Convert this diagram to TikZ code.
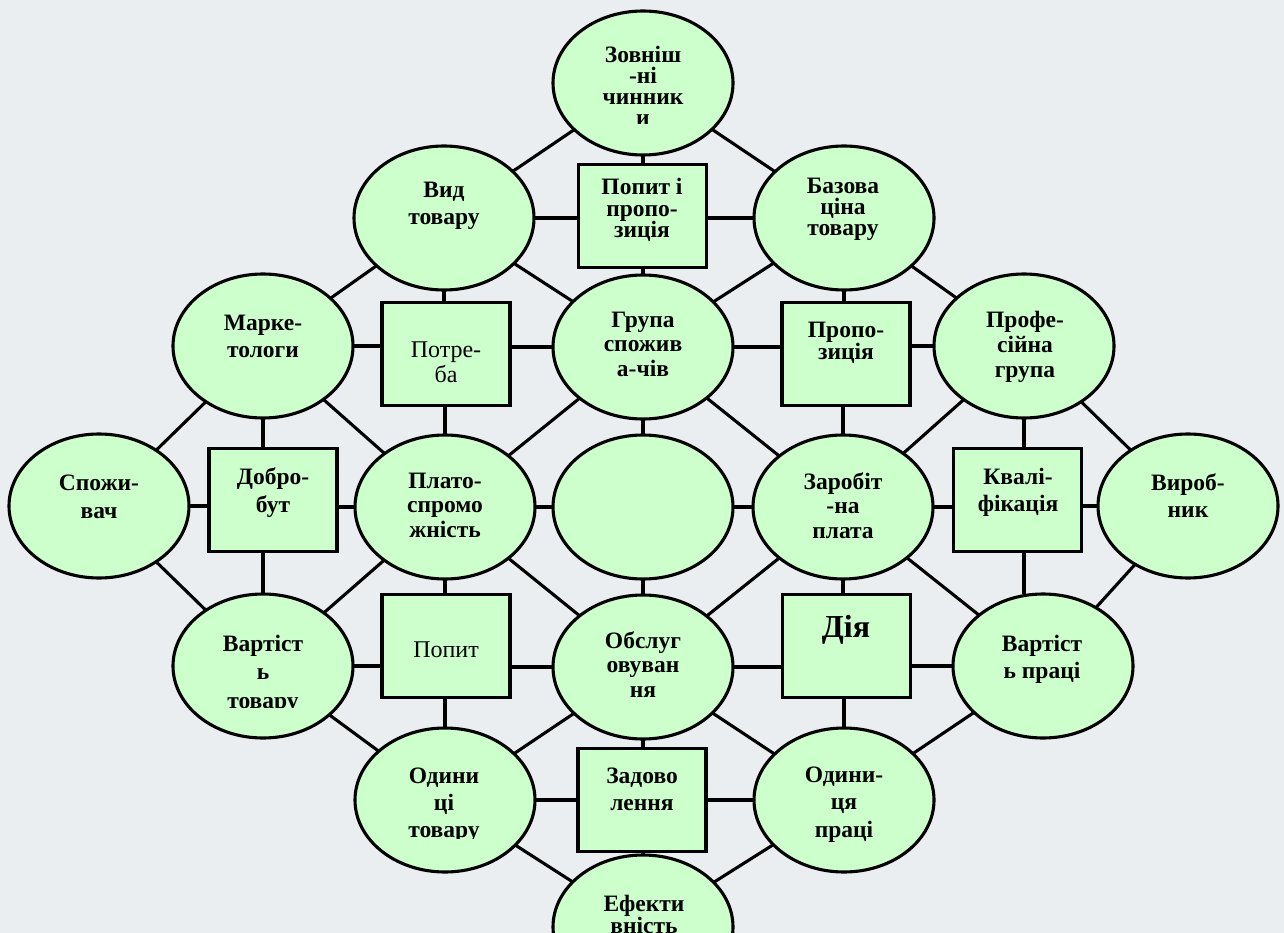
\documentclass[tikz,border=0pt]{standalone}
\usepackage{fontspec}
\setmainfont{Liberation Serif}
\usetikzlibrary{shapes.geometric}
\definecolor{shapefill}{RGB}{204,255,204}
\definecolor{bgcol}{RGB}{235,238,241}
\newcommand{\mylbl}[5]{\node[lbl] (#1) at (#2,#3) {\parbox[t]{170pt}{\centering\fontsize{23.5pt}{#4pt}\selectfont\bfseries #5}};}
\newcommand{\mylblr}[5]{\node[lbl] (#1) at (#2,#3) {\parbox[t]{170pt}{\centering\fontsize{24pt}{#4pt}\selectfont #5}};}
\begin{document}
\begin{tikzpicture}[x=1pt,y=-1pt,
  oval/.style={ellipse, draw=black, line width=3.1pt, fill=shapefill, minimum width=180pt, minimum height=144pt, inner sep=0pt, outer sep=0pt},
  sq/.style={rectangle, draw=black, line width=3.1pt, fill=shapefill, minimum width=128pt, minimum height=103pt, inner sep=0pt, outer sep=0pt},
  conn/.style={line width=3.1pt, draw=black},
  lbl/.style={anchor=base, inner sep=0pt, outer sep=0pt}
]
\useasboundingbox (0,0) rectangle (1284,933);
\clip (0,0) rectangle (1284,933);
\fill[bgcol] (0,0) rectangle (1284,933);

% ellipses
\node[oval] (zv)  at (643,83) {};
\node[oval] (vt)  at (444,218) {};
\node[oval] (bc)  at (844,218) {};
\node[oval] (mk)  at (263,346) {};
\node[oval] (gr)  at (643,347) {};
\node[oval] (pg)  at (1024,346) {};
\node[oval] (sp)  at (99,506) {};
\node[oval] (pl)  at (445,507) {};
\node[oval] (ce)  at (643,507) {};
\node[oval] (zp)  at (843,507) {};
\node[oval] (vb)  at (1188,506) {};
\node[oval] (vtv) at (263,666) {};
\node[oval] (ob)  at (643,667) {};
\node[oval] (vp)  at (1043,666) {};
\node[oval] (ot)  at (445,800) {};
\node[oval] (op)  at (844,800) {};
\node[oval] (ef)  at (643,927) {};

% boxes
\node[sq] (ppz) at (642.5,216) {};
\node[sq] (ptr) at (446,354) {};
\node[sq] (prp) at (846,354) {};
\node[sq] (dbt) at (273,500) {};
\node[sq] (kvl) at (1017.5,500) {};
\node[sq] (pop) at (446,646) {};
\node[sq] (dia) at (846.5,646) {};
\node[sq] (zad) at (642,800) {};

% vertical connectors
\draw[conn] (zv.south) -- (zv.south |- ppz.north);
\draw[conn] (gr.north) -- (gr.north |- ppz.south);
\draw[conn] (vt.south) -- (vt.south |- ptr.north);
\draw[conn] (bc.south) -- (bc.south |- prp.north);
\draw[conn] (pl.north) -- (pl.north |- ptr.south);
\draw[conn] (zp.north) -- (zp.north |- prp.south);
\draw[conn] (gr.south) -- (ce.north);
\draw[conn] (mk.south) -- (mk.south |- dbt.north);
\draw[conn] (vtv.north) -- (vtv.north |- dbt.south);
\draw[conn] (pg.south) -- (pg.south |- kvl.north);
\draw[conn] (kvl.south -| pg.south) -- (vp.north -| pg.south);
\draw[conn] (pl.south) -- (pl.south |- pop.north);
\draw[conn] (zp.south) -- (zp.south |- dia.north);
\draw[conn] (ce.south) -- (ob.north);
\draw[conn] (ot.north) -- (ot.north |- pop.south);
\draw[conn] (op.north) -- (op.north |- dia.south);
\draw[conn] (ob.south) -- (ob.south |- zad.north);
\draw[conn] (ef.north) -- (ef.north |- zad.south);

% horizontal connectors
\draw[conn] (vt.east) -- (vt.east -| ppz.west);
\draw[conn] (bc.west) -- (bc.west -| ppz.east);
\draw[conn] (mk.east) -- (mk.east -| ptr.west);
\draw[conn] (gr.west) -- (gr.west -| ptr.east);
\draw[conn] (gr.east) -- (gr.east -| prp.west);
\draw[conn] (pg.west) -- (pg.west -| prp.east);
\draw[conn] (sp.east) -- (sp.east -| dbt.west);
\draw[conn] (pl.west) -- (pl.west -| dbt.east);
\draw[conn] (pl.east) -- (ce.west);
\draw[conn] (ce.east) -- (zp.west);
\draw[conn] (zp.east) -- (zp.east -| kvl.west);
\draw[conn] (vb.west) -- (vb.west -| kvl.east);
\draw[conn] (vtv.east) -- (vtv.east -| pop.west);
\draw[conn] (ob.west) -- (ob.west -| pop.east);
\draw[conn] (ob.east) -- (ob.east -| dia.west);
\draw[conn] (vp.west) -- (vp.west -| dia.east);
\draw[conn] (ot.east) -- (ot.east -| zad.west);
\draw[conn] (op.west) -- (op.west -| zad.east);

% diagonal connectors
\draw[conn] (zv) -- (vt);
\draw[conn] (zv) -- (bc);
\draw[conn] (vt) -- (mk);
\draw[conn] (vt) -- (gr);
\draw[conn] (bc) -- (gr);
\draw[conn] (bc) -- (pg);
\draw[conn] (mk) -- (sp);
\draw[conn] (mk) -- (pl);
\draw[conn] (gr) -- (pl);
\draw[conn] (gr) -- (zp);
\draw[conn] (pg) -- (zp);
\draw[conn] (pg) -- (vb);
\draw[conn] (sp) -- (vtv);
\draw[conn] (pl) -- (vtv);
\draw[conn] (pl) -- (ob);
\draw[conn] (zp) -- (ob);
\draw[conn] (zp) -- (vp);
\draw[conn] (vb) -- (vp);
\draw[conn] (vtv) -- (ot);
\draw[conn] (ob) -- (ot);
\draw[conn] (ob) -- (op);
\draw[conn] (vp) -- (op);
\draw[conn] (ot) -- (ef);
\draw[conn] (op) -- (ef);

% texts
\begin{scope}
\clip (540,0) rectangle (750,124);
\mylbl{zvt}{643}{63}{21}{Зовніш\\-ні\\чинник\\и}
\end{scope}
\mylbl{ppzt}{642}{195}{21.5}{Попит і\\пропо-\\зиція}
\mylbl{vtt}{444}{198}{27}{Вид\\товару}
\mylbl{bct}{843}{194}{21}{Базова\\ціна\\товару}
\mylbl{mkt}{263}{330}{27}{Марке-\\тологи}
\mylblr{ptrt}{446}{357}{25}{Потре-\\ба}
\mylbl{grt}{643}{327}{24.5}{Група\\спожив\\а-чів}
\mylbl{prpt}{846}{337}{22}{Пропо-\\зиція}
\mylbl{pgt}{1025}{327}{25}{Профе-\\сійна\\група}
\mylbl{spt}{99}{490}{28}{Спожи-\\вач}
\mylbl{dbtt}{273}{484}{28}{Добро-\\бут}
\mylbl{plt}{445}{488}{24.5}{Плато-\\спромо\\жність}
\mylbl{zpt}{843}{489}{24.5}{Заробіт\\-на\\плата}
\mylbl{kvlt}{1018}{484}{27}{Квалі-\\фікація}
\mylbl{vbt}{1188}{490}{27}{Вироб-\\ник}
\begin{scope}
\clip (160,600) rectangle (370,707);
\mylbl{vtvt}{263}{651}{28.5}{Вартіст\\ь\\товару}
\end{scope}
\mylblr{popt}{446}{657}{24}{Попит}
\mylbl{obt}{643}{648}{24.5}{Обслуг\\овуван\\ня}
\mylbl{diat}{846}{637}{32}{\fontsize{32pt}{32pt}\selectfont Дія}
\mylbl{vpt}{1042}{651}{27}{Вартіст\\ь праці}
\begin{scope}
\clip (340,740) rectangle (550,838);
\mylbl{ott}{444}{783}{27}{Одини\\ці\\товару}
\end{scope}
\mylbl{zadt}{642}{783}{27.5}{Задово\\лення}
\mylbl{opt}{844}{782}{27.5}{Одини-\\ця\\праці}
\mylbl{eft}{644}{911}{22}{Ефекти\\вність}
\end{tikzpicture}
\end{document}
